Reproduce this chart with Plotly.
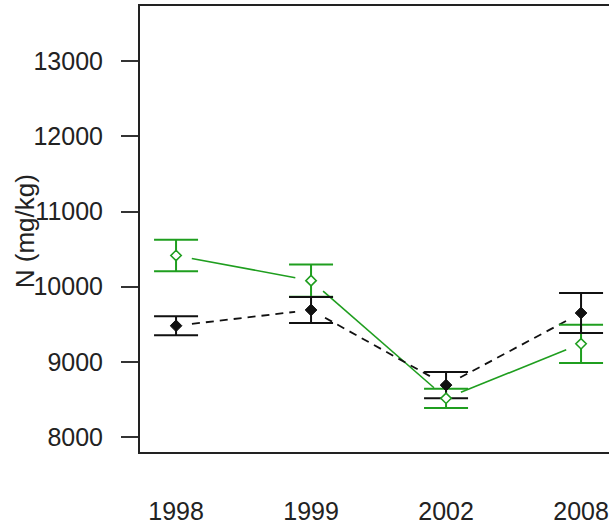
import plotly.graph_objects as go

# Sampling years and the two nitrogen series (mean ± error)
years = ["1998", "1999", "2002", "2008"]
pos = [1, 2, 3, 4]

n_black = [9480, 9690, 8690, 9650]
err_black = [128, 173, 176, 266]

n_green = [10415, 10080, 8515, 9240]
err_green = [211, 215, 128, 255]

y_ticks = [8000, 9000, 10000, 11000, 12000, 13000]
y_tick_text = [str(v) for v in y_ticks]

GREEN = "#1f9e1f"
BLACK = "#111111"

# Plot-area geometry (px) used to leave a gap around each point, like R's type="b"
W, H = 609, 525
ML, MR, MT, MB = 140, 0, 6, 73
X_RANGE = [0.733, 4.207]
Y_RANGE = [7800, 13735]
px_x = (W - ML - MR) / (X_RANGE[1] - X_RANGE[0])
px_y = (H - MT - MB) / (Y_RANGE[1] - Y_RANGE[0])
GAP = 16


def gapped(xs, ys):
    gx, gy = [], []
    for i in range(len(xs) - 1):
        dx = (xs[i + 1] - xs[i]) * px_x
        dy = (ys[i + 1] - ys[i]) * px_y
        L = (dx * dx + dy * dy) ** 0.5
        f = GAP / L
        gx += [xs[i] + f * (xs[i + 1] - xs[i]), xs[i + 1] - f * (xs[i + 1] - xs[i]), None]
        gy += [ys[i] + f * (ys[i + 1] - ys[i]), ys[i + 1] - f * (ys[i + 1] - ys[i]), None]
    return gx, gy


fig = go.Figure()

gx, gy = gapped(pos, n_green)
fig.add_trace(go.Scatter(x=gx, y=gy, mode="lines",
                         line=dict(color=GREEN, width=1.6), hoverinfo="skip"))
bx, by = gapped(pos, n_black)
fig.add_trace(go.Scatter(x=bx, y=by, mode="lines",
                         line=dict(color=BLACK, width=1.8, dash="8px,6px"), hoverinfo="skip"))

# Error bars (green beneath black)
fig.add_trace(go.Scatter(x=pos, y=n_green, mode="markers",
                         marker=dict(color="rgba(0,0,0,0)", size=1),
                         error_y=dict(type="data", array=err_green, color=GREEN,
                                      thickness=2, width=22)))
fig.add_trace(go.Scatter(x=pos, y=n_black, mode="markers",
                         marker=dict(color="rgba(0,0,0,0)", size=1),
                         error_y=dict(type="data", array=err_black, color=BLACK,
                                      thickness=2, width=22)))

# Point symbols
fig.add_trace(go.Scatter(x=pos, y=n_green, mode="markers",
                         marker=dict(symbol="diamond", size=8, color="white",
                                     line=dict(color=GREEN, width=1.6))))
fig.add_trace(go.Scatter(x=pos, y=n_black, mode="markers",
                         marker=dict(symbol="diamond", size=9, color=BLACK,
                                     line=dict(color=BLACK, width=1))))

FONT = "Arial, 'Liberation Sans', sans-serif"
FS = 25

fig.update_layout(
    width=W, height=H,
    margin=dict(l=ML, r=MR, t=MT, b=MB, autoexpand=False),
    paper_bgcolor="white", plot_bgcolor="white",
    showlegend=False,
    font=dict(family=FONT, size=FS, color="#222222"),
    xaxis=dict(range=X_RANGE, tickmode="array", tickvals=pos, ticktext=years,
               showgrid=False, zeroline=False, showline=True, mirror=True,
               linecolor="#222222", linewidth=2, ticks="",
               ticklabelstandoff=36, tickfont=dict(size=FS, family=FONT, color="#222222")),
    yaxis=dict(range=Y_RANGE, tickmode="array", tickvals=y_ticks, ticktext=y_tick_text,
               showgrid=False, zeroline=False, showline=True, mirror=False,
               linecolor="#222222", linewidth=2, ticks="outside", ticklen=17,
               tickwidth=2, tickcolor="#333333",
               ticklabelstandoff=13, tickfont=dict(size=FS, family=FONT, color="#222222")),
    annotations=[dict(text="N (mg/kg)", xref="paper", yref="paper",
                      x=(25 - ML) / (W - ML - MR), y=0.495, xanchor="center", yanchor="middle",
                      textangle=-90, showarrow=False,
                      font=dict(size=26, family=FONT, color="#222222"))],
)

fig.write_html("out.html")
